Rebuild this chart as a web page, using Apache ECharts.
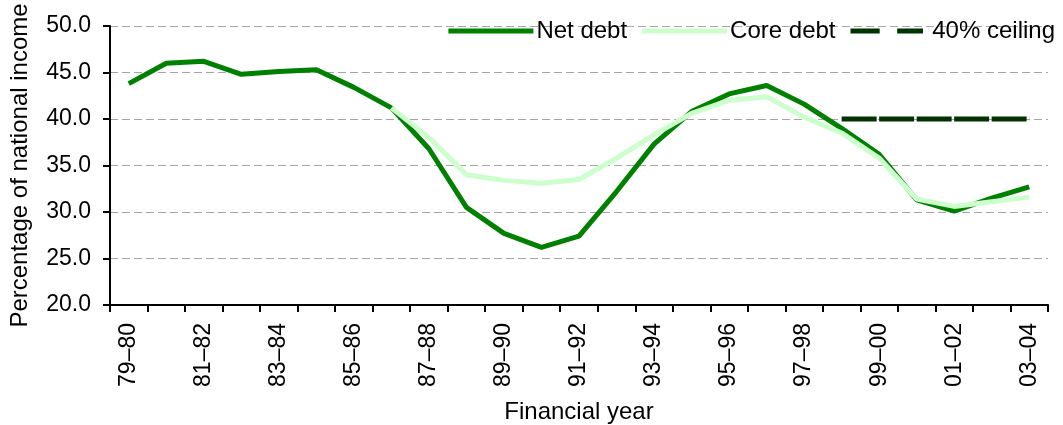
<!DOCTYPE html>
<html>
<head>
<meta charset="utf-8">
<script src="https://cdn.jsdelivr.net/npm/echarts@6/dist/echarts.min.js"></script>
<style>
html,body{margin:0;padding:0;background:#fff;}
#chart{width:1063px;height:425px;}
</style>
</head>
<body>
<div id="chart"></div>
<script>
const categories = ['79–80','80–81','81–82','82–83','83–84','84–85','85–86','86–87','87–88','88–89','89–90','90–91','91–92','92–93','93–94','94–95','95–96','96–97','97–98','98–99','99–00','00–01','01–02','02–03','03–04'];
const netDebt = [43.8, 46.0, 46.2, 44.8, 45.1, 45.3, 43.4, 41.2, 36.8, 30.5, 27.7, 26.2, 27.4, 32.2, 37.3, 40.8, 42.7, 43.6, 41.6, 39.0, 36.2, 31.3, 30.1, 31.5, 32.7];
const coreDebt = [null, null, null, null, null, null, null, 41.2, 38.0, 34.0, 33.4, 33.1, 33.5, 35.8, 38.3, 40.6, 42.0, 42.4, 40.2, 38.5, 35.8, 31.4, 30.6, 31.1, 31.6];
const ceiling = [null, null, null, null, null, null, null, null, null, null, null, null, null, null, null, null, null, null, null, 40.0, 40.0, 40.0, 40.0, 40.0, 40.0];
const yTicks = {min: 20, max: 50, interval: 5};

const FONT = '"Liberation Sans", Arial, sans-serif';
const chart = echarts.init(document.getElementById('chart'), null, {renderer: 'canvas'});
chart.setOption({
  animation: false,
  backgroundColor: '#ffffff',
  textStyle: {fontFamily: FONT},
  grid: {left: 110, right: 15, top: 26, bottom: 120, containLabel: false, outerBoundsMode: 'none'},
  legend: {
    top: 14, right: 3,
    itemWidth: 85, itemHeight: 5, itemGap: 15,
    textStyle: {fontFamily: FONT, fontSize: 24, color: '#000', padding: [0, 0, 0, -2]},
    data: [
      {name: 'Net debt', icon: 'rect'},
      {name: 'Core debt', icon: 'rect'},
      {name: '40% ceiling', icon: 'path://M0,0H35V6H0Z M56,0H87V6H56Z'}
    ]
  },
  xAxis: {
    type: 'category',
    data: categories,
    boundaryGap: true,
    name: 'Financial year',
    nameLocation: 'middle',
    nameGap: 95,
    nameTextStyle: {fontFamily: FONT, fontSize: 24, color: '#000'},
    axisLine: {lineStyle: {color: '#000', width: 2}},
    axisTick: {show: true, interval: 0, length: 7, lineStyle: {color: '#000', width: 2}},
    axisLabel: {interval: 1, rotate: 90, margin: 18, fontFamily: FONT, fontSize: 23, color: '#000'},
    splitLine: {show: false}
  },
  yAxis: {
    type: 'value',
    min: yTicks.min, max: yTicks.max, interval: yTicks.interval,
    name: 'Percentage of national income',
    nameLocation: 'middle',
    nameGap: 78,
    nameTextStyle: {fontFamily: FONT, fontSize: 24, color: '#000'},
    axisLine: {show: true, lineStyle: {color: '#000', width: 2}},
    axisTick: {show: true, length: 7, lineStyle: {color: '#000', width: 2}},
    axisLabel: {margin: 19, fontFamily: FONT, fontSize: 23, color: '#000', formatter: v => v.toFixed(1)},
    splitLine: {show: true, lineStyle: {color: '#a6a6a6', width: 1, type: [8, 4]}}
  },
  series: [
    {name: 'Net debt', type: 'line', data: netDebt, symbol: 'none', connectNulls: false,
     lineStyle: {color: '#008000', width: 5}, itemStyle: {color: '#008000'}},
    {name: 'Core debt', type: 'line', data: coreDebt, symbol: 'none', connectNulls: false,
     lineStyle: {color: '#ccffcc', width: 5}, itemStyle: {color: '#ccffcc'}},
    {name: '40% ceiling', type: 'line', data: ceiling, symbol: 'none', connectNulls: false,
     lineStyle: {color: '#003300', width: 5, type: [35, 2.5]}, itemStyle: {color: '#003300'}}
  ]
});
</script>
</body>
</html>
